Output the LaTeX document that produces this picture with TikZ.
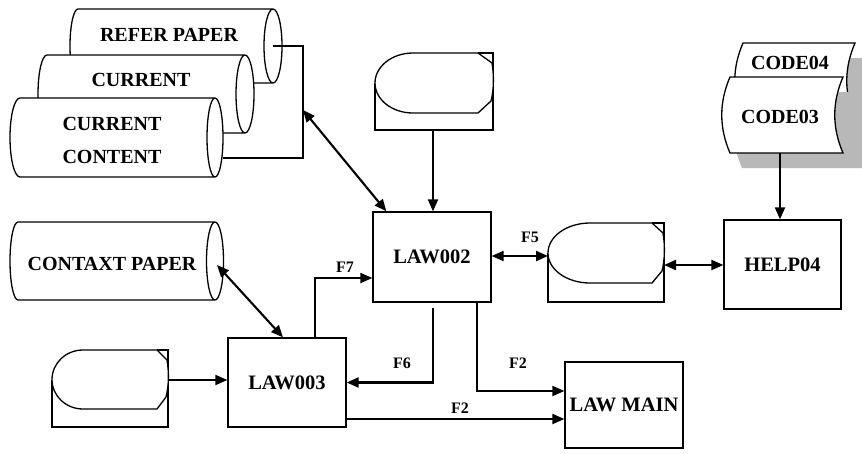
\documentclass[tikz,border=0pt]{standalone}
\usepackage{fontspec}
\setmainfont{Liberation Serif}
\usetikzlibrary{arrows.meta}
\tikzset{
  outl/.style={line width=1.3pt},
  lbl/.style={font=\fontsize{20}{23}\selectfont\bfseries, inner sep=0pt},
  flbl/.style={font=\fontsize{16}{18}\selectfont\bfseries, inner sep=0pt},
  arr/.style={line width=2.1pt, -{Triangle[length=12pt,width=10pt]}},
  darr/.style={line width=2.1pt, {Triangle[length=12pt,width=10pt]}-{Triangle[length=12pt,width=10pt]}},
  proc/.style={draw, line width=1.3pt, minimum width=118pt, minimum height=89pt, inner sep=0pt, font=\fontsize{20.5}{23}\selectfont\bfseries}
}
% cylinder: L R T B rx lx   (y in pixels, downward)
\newcommand\mycyl[6]{%
  \path[fill=white] (#1,-#3) -- (#2,-#3) arc[start angle=90,end angle=-90,x radius=#5,y radius={(#4-#3)/2}] -- (#1,-#4) arc[start angle=270,end angle=90,x radius=#6,y radius={(#4-#3)/2}] -- cycle;
  \draw[outl] (#1,-#3) -- (#2,-#3) (#1,-#4) -- (#2,-#4)
    (#1,-#3) arc[start angle=90,end angle=270,x radius=#6,y radius={(#4-#3)/2}]
    (#2,{-(#3+#4)/2}) ellipse[x radius=#5,y radius={(#4-#3)/2}];
}
% display/storage: x0 x1 y0 ym yb a c
\newcommand\mydisp[7]{%
  \draw[outl] (#1,{-(#3+#4)/2}) -- (#1,-#5) -- (#2,-#5) -- (#2,-#3) -- ({#2-#7},-#3);
  \draw[outl, fill=white] ({#1+#6},-#3) -- ({#2-#7},-#3) -- ({#2-1},{-(#3+10)})
    .. controls ({#2+1},{-(#3+22)}) and ({#2+1},{-(#4-24)}) .. ({#2-2},{-(#4-12)})
    -- ({#2-#7},-#4) -- ({#1+#6},-#4)
    arc[start angle=270,end angle=90,x radius=#6,y radius={(#4-#3)/2}] -- cycle;
}
% stored data: xl xr yt yb style
\newcommand\mystore[5]{%
  \path[#5] (#1,-#3) -- (#2,-#3)
    .. controls ({#2-11},{-(#3+(#4-#3)/3)}) and ({#2-11},{-(#4-(#4-#3)/3)}) .. (#2,-#4)
    -- (#1,-#4)
    .. controls ({#1-11},{-(#4-(#4-#3)/3)}) and ({#1-11},{-(#3+(#4-#3)/3)}) .. (#1,-#3) -- cycle;
}
\begin{document}
\begin{tikzpicture}[x=1pt,y=1pt]
\useasboundingbox (0,0) rectangle (862,-453);

% --- cylinders top-left
\mycyl{78}{273}{9}{83}{9}{8}
\mycyl{47}{245}{55}{133}{9}{9}
\mycyl{20}{215}{98}{177}{8}{10}
\node[lbl] (refer) at (169,-35) {REFER PAPER};
\node[lbl] (current) at (141,-80) {CURRENT};
\node[lbl, align=center, font=\fontsize{20}{33}\selectfont\bfseries] (content) at (112,-140) {CURRENT\\CONTENT};

\coordinate (rc) at (273,-46);
\coordinate (cc) at (223,-158);
\coordinate (bk) at (303,-110);
\draw[outl] (rc) -| (bk) |- (cc);

% --- contaxt cylinder
\mycyl{18}{215}{222}{300}{8.5}{8}
\node[lbl] (contaxt) at (112,-264) {CONTAXT PAPER};
\coordinate (cxe) at (217,-265);

% --- displays
\mydisp{375}{493}{53}{113}{130}{38}{15}
\mydisp{548}{664}{223}{283}{302}{42}{12}
\mydisp{52}{168}{350}{409}{427}{31}{11}
\coordinate (d1b) at (433,-130);
\coordinate (d2l) at (548,-256);
\coordinate (d2r) at (664,-265);
\coordinate (d3r) at (168,-380);

% --- stored data with shadows
\mystore{755}{875}{58}{134}{fill=black!28}
\mystore{743}{855}{43}{119}{draw,outl,fill=white}
\mystore{742}{875}{92}{168}{fill=black!28}
\mystore{730}{843}{77}{153}{draw,outl,fill=white}
\node[lbl] (code04) at (790,-63) {CODE04};
\node[lbl] (code03) at (780,-117) {CODE03};
\coordinate (c3b) at (780,-153);

% --- process boxes
\node[proc, minimum height=90pt] (law002) at (432,-257) {LAW002};
\node[proc] (law003) at (287,-382.5) {LAW003};
\node[proc, minimum height=86pt] (lawmain) at (624,-405) {LAW MAIN};
\node[proc, minimum width=117pt] (help04) at (782.5,-264.5) {HELP04};

% --- connectors
\draw[darr] (bk) -- ([xshift=14pt]law002.north west);
\draw[arr] (d1b) -- (d1b |- law002.north);
\draw[darr] (cxe) -- ([xshift=-4pt]law003.north);
\draw[darr] (law002.east |- d2l) -- (d2l);
\draw[darr] (d2r) -- (d2r -| help04.west);
\draw[arr] (c3b) -- (c3b |- help04.north);
\draw[arr] (d3r) -- (d3r -| law003.west);
\draw[arr] ([xshift=28pt]law003.north) |- ([yshift=-21pt]law002.west);
\coordinate (f6s) at (433,-308);
\draw[arr] (f6s) |- (law003.east);
\draw[arr] ([xshift=45pt]law002.south) |- ([yshift=14pt]lawmain.west);
\coordinate (f2b) at ([yshift=-36.5pt]law003.east);
\draw[arr] (f2b) -- (f2b -| lawmain.west);

% --- labels
\node[flbl] (lf5) at (530,-237) {F5};
\node[flbl] (lf7) at (345,-267) {F7};
\node[flbl] (lf6) at (402,-363) {F6};
\node[flbl] (lf2a) at (518,-363) {F2};
\node[flbl] (lf2b) at (460,-408) {F2};
\end{tikzpicture}
\end{document}
